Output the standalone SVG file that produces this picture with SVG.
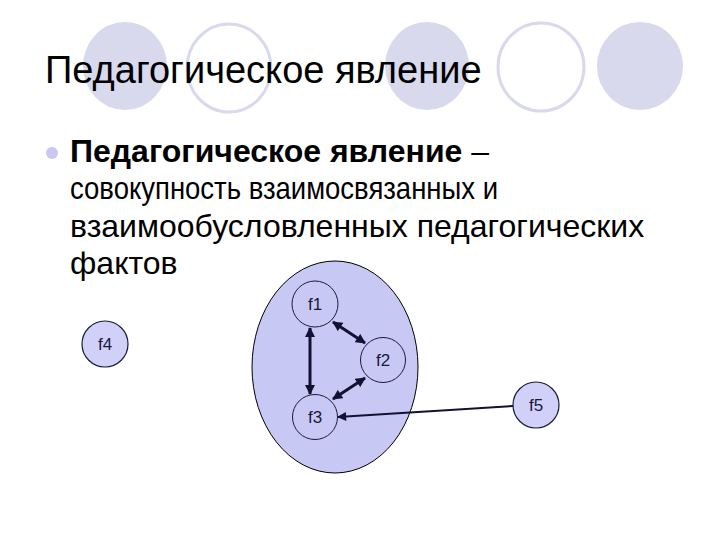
<svg xmlns="http://www.w3.org/2000/svg" width="720" height="540" viewBox="0 0 720 540">
  <style>
    .deco-fill { fill: #d9d9ee; }
    .deco-ring { fill: #ffffff; stroke: #d9d9ee; stroke-width: 3; }
    .title { font-family: "Liberation Sans", Arial, sans-serif; font-size: 38px; fill: #000000; }
    .body { font-family: "Liberation Sans", Arial, sans-serif; font-size: 32px; fill: #000000; }
    .bold { font-weight: bold; }
    .big { fill: #c8c8f4; stroke: #000000; stroke-width: 1; }
    .node { fill: #c8c8f4; stroke: #1a1a3a; stroke-width: 1; }
    .node-out { fill: #d0d0f8; stroke: #1a1a3a; stroke-width: 1.2; }
    .lbl { font-family: "Liberation Sans", Arial, sans-serif; font-size: 17px; fill: #1a1a3a; text-anchor: middle; }
    .thick { stroke: #111133; stroke-width: 3; fill: none; }
    .thin { stroke: #111133; stroke-width: 2; fill: none; }
  </style>
  <defs>
    <marker id="ah" viewBox="0 0 10 10" refX="9" refY="5" markerWidth="11" markerHeight="10" markerUnits="userSpaceOnUse" orient="auto-start-reverse">
      <path d="M0,0 L10,5 L0,10 Z" fill="#111133"/>
    </marker>
    <marker id="ah2" viewBox="0 0 10 10" refX="9" refY="5" markerWidth="11" markerHeight="9" markerUnits="userSpaceOnUse" orient="auto">
      <path d="M0,0 L10,5 L0,10 Z" fill="#111133"/>
    </marker>
  </defs>
  <rect width="720" height="540" fill="#ffffff"/>

  <g id="decor">
    <ellipse class="deco-fill" cx="125" cy="66" rx="42" ry="44"/>
    <ellipse class="deco-ring" cx="229" cy="68" rx="42" ry="44"/>
    <ellipse class="deco-fill" cx="427" cy="66" rx="42" ry="44"/>
    <ellipse class="deco-ring" cx="541" cy="67" rx="43" ry="44"/>
    <ellipse class="deco-fill" cx="640" cy="66" rx="43" ry="44"/>
  </g>

  <g id="title">
    <text class="title" x="45" y="83">Педагогическое явление</text>
  </g>

  <g id="bullet-text">
    <circle cx="52" cy="153" r="6" fill="#c8c8f0"/>
    <text class="body" x="70" y="162"><tspan class="bold">Педагогическое явление</tspan> –</text>
    <text class="body" x="70" y="199" textLength="428" lengthAdjust="spacingAndGlyphs">совокупность взаимосвязанных и</text>
    <text class="body" x="70" y="237">взаимообусловленных педагогических</text>
    <text class="body" x="70" y="274">фактов</text>
  </g>

  <g id="phenomenon">
    <ellipse class="big" cx="335" cy="367" rx="83" ry="106"/>
  </g>

  <g id="f1">
    <circle class="node" cx="315" cy="304" r="23"/>
    <text class="lbl" x="315" y="310">f1</text>
  </g>
  <g id="f2">
    <circle class="node" cx="383" cy="360" r="22.5"/>
    <text class="lbl" x="383" y="366">f2</text>
  </g>
  <g id="f3">
    <circle class="node" cx="315" cy="417" r="22.5"/>
    <text class="lbl" x="315" y="423">f3</text>
  </g>
  <g id="f4">
    <circle class="node-out" cx="105" cy="344" r="23"/>
    <text class="lbl" x="105" y="350">f4</text>
  </g>
  <g id="f5">
    <circle class="node-out" cx="536" cy="405" r="23"/>
    <text class="lbl" x="536" y="411">f5</text>
  </g>

  <g id="connectors">
    <line class="thick" x1="310" y1="328" x2="310" y2="394" marker-start="url(#ah)" marker-end="url(#ah)"/>
    <line class="thick" x1="333" y1="322" x2="365" y2="343" marker-start="url(#ah)" marker-end="url(#ah)"/>
    <line class="thick" x1="365" y1="378" x2="333" y2="399" marker-start="url(#ah)" marker-end="url(#ah)"/>
    <line class="thin" x1="513" y1="406" x2="338" y2="417" marker-end="url(#ah2)"/>
  </g>
</svg>
